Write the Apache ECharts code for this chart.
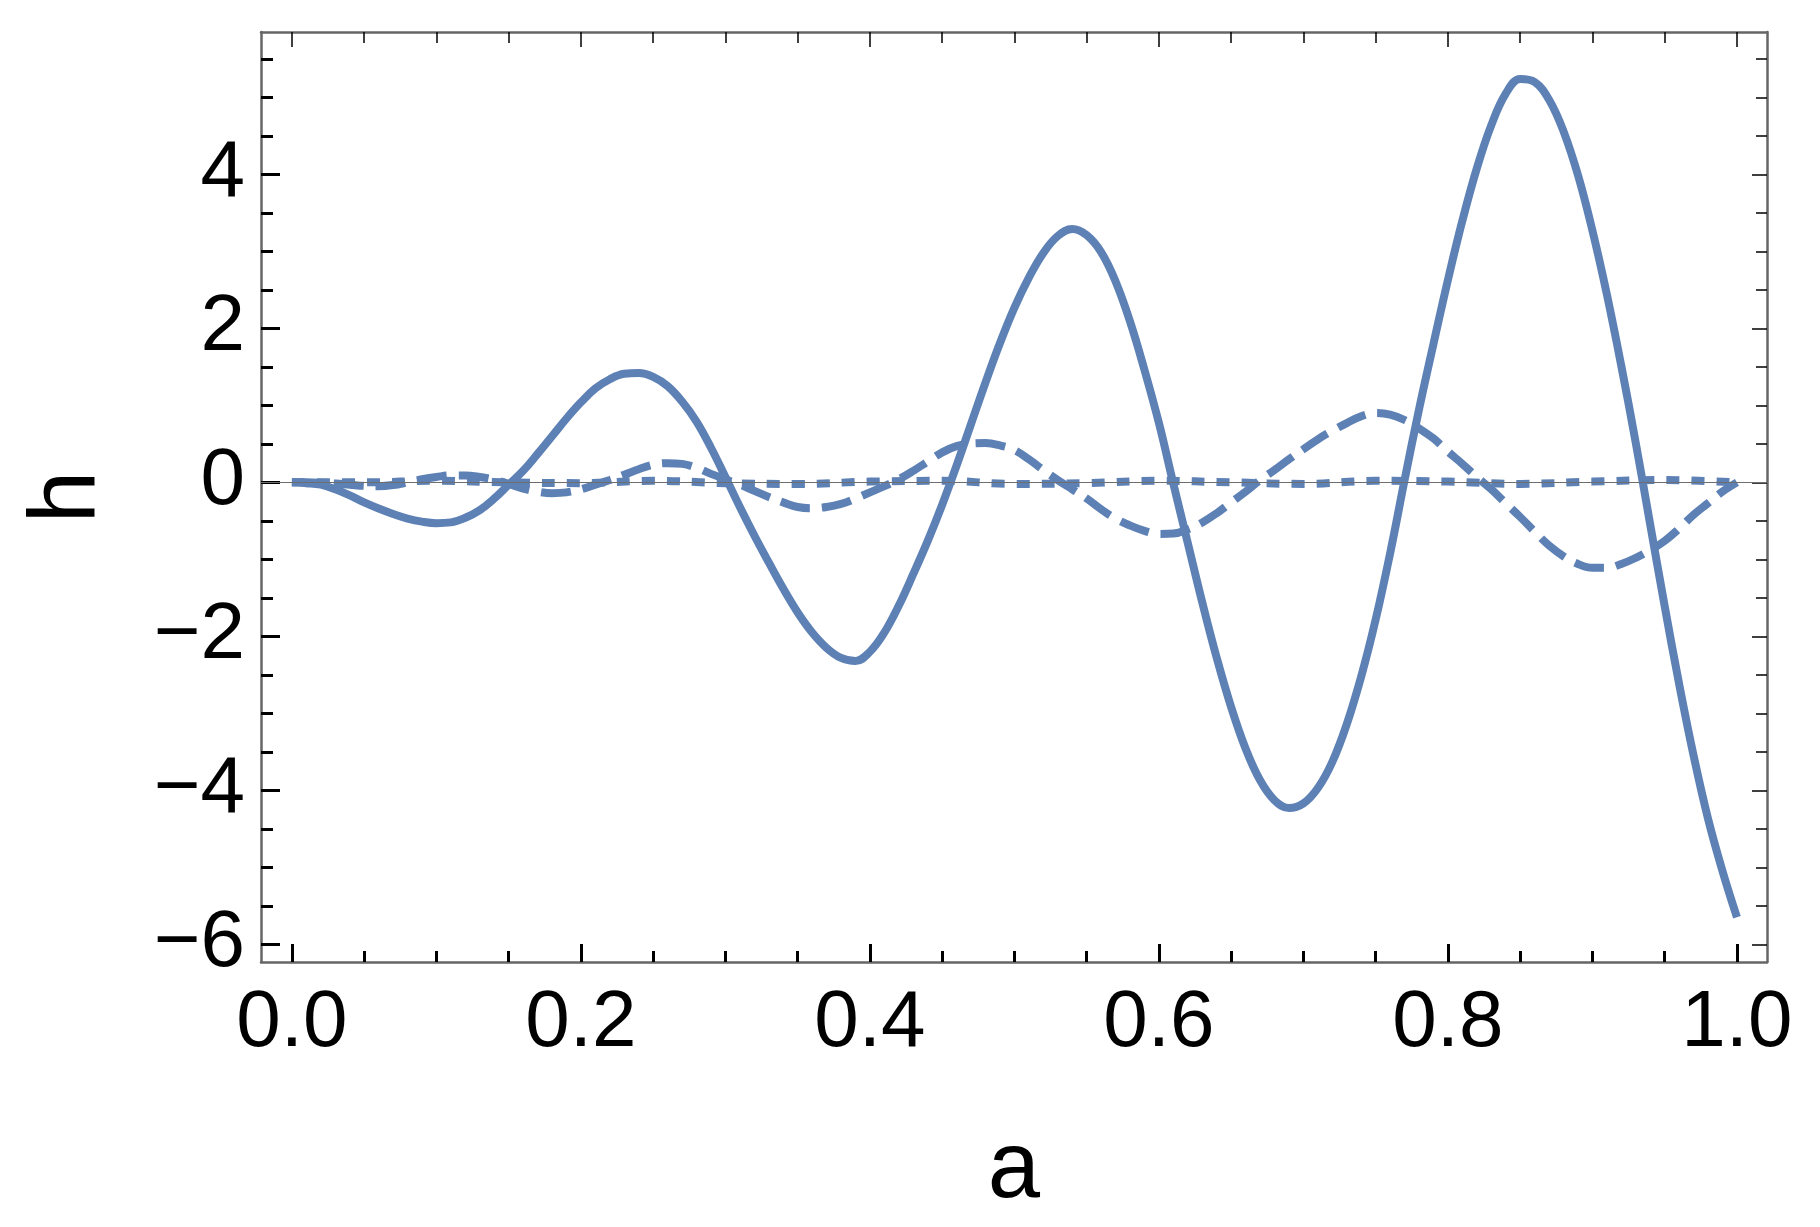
<!DOCTYPE html>
<html>
<head>
<meta charset="utf-8">
<script src="https://cdn.jsdelivr.net/npm/echarts@6/dist/echarts.min.js"></script>
<style>
html,body{margin:0;padding:0;background:#fff;}
#chart{width:1820px;height:1227px;}
</style>
</head>
<body>
<div id="chart"></div>
<script>
// ---- data ----
var aValues = [0.00,0.01,0.02,0.03,0.04,0.05,0.06,0.07,0.08,0.09,
  0.10,0.11,0.12,0.13,0.14,0.15,0.16,0.17,0.18,0.19,
  0.20,0.21,0.22,0.23,0.24,0.25,0.26,0.27,0.28,0.29,
  0.30,0.31,0.32,0.33,0.34,0.35,0.36,0.37,0.38,0.39,
  0.40,0.41,0.42,0.43,0.44,0.45,0.46,0.47,0.48,0.49,
  0.50,0.51,0.52,0.53,0.54,0.55,0.56,0.57,0.58,0.59,
  0.60,0.61,0.62,0.63,0.64,0.65,0.66,0.67,0.68,0.69,
  0.70,0.71,0.72,0.73,0.74,0.75,0.76,0.77,0.78,0.79,
  0.80,0.81,0.82,0.83,0.84,0.85,0.86,0.87,0.88,0.89,
  0.90,0.91,0.92,0.93,0.94,0.95,0.96,0.97,0.98,0.99,1.00];

var hSolid = [0,-0.01,-0.03,-0.09,-0.17,-0.26,-0.34,-0.41,-0.47,-0.51,
  -0.53,-0.52,-0.46,-0.36,-0.21,-0.03,0.15,0.37,0.60,0.83,
  1.04,1.22,1.34,1.41,1.42,1.37,1.25,1.05,0.79,0.45,
  0.07,-0.32,-0.69,-1.04,-1.38,-1.69,-1.95,-2.15,-2.28,-2.32,
  -2.20,-1.95,-1.60,-1.19,-0.76,-0.29,0.22,0.76,1.30,1.81,
  2.27,2.66,2.98,3.20,3.29,3.21,2.99,2.61,2.09,1.46,
  0.77,-0.02,-0.79,-1.56,-2.28,-2.92,-3.46,-3.87,-4.13,-4.23,
  -4.17,-3.97,-3.63,-3.14,-2.52,-1.78,-0.92,0.03,0.95,1.80,
  2.63,3.40,4.08,4.64,5.05,5.24,5.20,4.97,4.56,3.99,
  3.27,2.44,1.51,0.51,-0.55,-1.61,-2.62,-3.55,-4.37,-5.05,-5.65];

var hDashed = [0,0,-0.005,-0.015,-0.03,-0.045,-0.05,-0.035,0.0,0.04,
  0.07,0.09,0.09,0.07,0.035,-0.02,-0.08,-0.12,-0.14,-0.13,
  -0.09,-0.03,0.03,0.10,0.17,0.23,0.25,0.24,0.19,0.11,
  0.04,-0.03,-0.11,-0.19,-0.26,-0.32,-0.335,-0.32,-0.28,-0.21,
  -0.13,-0.05,0.04,0.15,0.27,0.39,0.47,0.505,0.51,0.48,
  0.42,0.30,0.16,0.03,-0.09,-0.21,-0.35,-0.47,-0.56,-0.63,
  -0.67,-0.665,-0.61,-0.52,-0.40,-0.26,-0.12,0.03,0.16,0.30,
  0.43,0.56,0.67,0.77,0.86,0.90,0.88,0.81,0.70,0.57,
  0.40,0.24,0.07,-0.09,-0.27,-0.45,-0.64,-0.82,-0.96,-1.06,
  -1.11,-1.11,-1.06,-0.98,-0.88,-0.76,-0.60,-0.42,-0.27,-0.12,0];

var aDotted = [0,0.05,0.10,0.15,0.20,0.25,0.30,0.35,0.40,0.45,0.50,
  0.55,0.60,0.65,0.70,0.75,0.80,0.85,0.90,0.95,1.00];
var hDotted = [0,0,0.02,0,-0.01,0.02,-0.01,-0.02,0.01,0.02,-0.02,
  -0.01,0.02,0,-0.02,0.02,0.01,-0.02,0.01,0.03,0];

var xMajorTicks = [0,0.2,0.4,0.6,0.8,1.0];
var xTickLabels = ['0.0','0.2','0.4','0.6','0.8','1.0'];
var xMinorTicks = [0.05,0.1,0.15,0.25,0.3,0.35,0.45,0.5,0.55,0.65,0.7,0.75,0.85,0.9,0.95];
var yMajorTicks = [-6,-4,-2,0,2,4];
var yTickLabels = ['\u22126','\u22124','\u22122','0','2','4'];
var yMinorTicks = [-5.5,-5,-4.5,-3.5,-3,-2.5,-1.5,-1,-0.5,0.5,1,1.5,2.5,3,3.5,4.5,5,5.5];

var xName = 'a';
var yName = 'h';

// ---- chart ----
var XMIN = -0.0214, XMAX = 1.0208, YMIN = -6.23, YMAX = 5.85;
var BLUE = '#5E81B5';
var FRAME = '#666666';
var FONT = 'Liberation Sans';

function pairs(xs, ys){ return xs.map(function(x,i){ return [x, ys[i]]; }); }

function xAx(grid, pos, ticks, len, w, opts){
  var o = {
    type:'value', gridIndex:grid, position:pos, min:XMIN, max:XMAX,
    axisLine:{show:false, onZero:false},
    axisTick:{show:true, inside:true, length:len, customValues:ticks, lineStyle:{color:'#000', width:w}},
    axisLabel:{show:false},
    splitLine:{show:false}
  };
  return Object.assign(o, opts||{});
}
function yAx(grid, pos, ticks, len, w, opts){
  var o = {
    type:'value', gridIndex:grid, position:pos, min:YMIN, max:YMAX,
    axisLine:{show:false, onZero:false},
    axisTick:{show:true, inside:true, length:len, customValues:ticks, lineStyle:{color:'#000', width:w}},
    axisLabel:{show:false},
    splitLine:{show:false}
  };
  return Object.assign(o, opts||{});
}

var gridPos = {left:261, right:53, top:32, bottom:265};

var option = {
  animation:false,
  backgroundColor:'#fff',
  grid:[Object.assign({}, gridPos), Object.assign({}, gridPos)],
  xAxis:[
    xAx(0,'bottom',xMajorTicks,18,3,{
      axisLine:{show:true,onZero:false,lineStyle:{color:FRAME,width:2.5}},
      axisLabel:{show:true, customValues:xMajorTicks, margin:22,
        formatter:function(v){ var i = xMajorTicks.indexOf(v); return i>=0? xTickLabels[i] : ''; },
        fontFamily:FONT, fontSize:80, color:'#000'},
      name:xName, nameLocation:'middle', nameGap:162,
      nameTextStyle:{fontFamily:FONT, fontSize:94, color:'#000'}
    }),
    xAx(0,'top',xMajorTicks,15,1.5,{
      axisLine:{show:true,onZero:false,lineStyle:{color:FRAME,width:2.5}}
    }),
    xAx(1,'bottom',xMinorTicks,11,3),
    xAx(1,'top',xMinorTicks,11,1.5)
  ],
  yAxis:[
    yAx(0,'left',yMajorTicks,19,3,{
      axisLine:{show:true,onZero:false,lineStyle:{color:FRAME,width:2.5}},
      axisLabel:{show:true, customValues:yMajorTicks, margin:16,
        formatter:function(v){ var i = yMajorTicks.indexOf(v); return i>=0? yTickLabels[i] : ''; },
        fontFamily:FONT, fontSize:80, color:'#000'},
      name:yName, nameLocation:'middle', nameGap:145,
      nameTextStyle:{fontFamily:FONT, fontSize:94, color:'#000'}
    }),
    yAx(0,'right',yMajorTicks,15,1.5,{
      axisLine:{show:true,onZero:false,lineStyle:{color:FRAME,width:2.5}}
    }),
    yAx(1,'left',yMinorTicks,12,3),
    yAx(1,'right',yMinorTicks,11,1.5)
  ],
  series:[
    {type:'line', xAxisIndex:0, yAxisIndex:0, data:pairs(aValues,hSolid), showSymbol:false, smooth:0.4,
     lineStyle:{color:BLUE, width:8, type:'solid', cap:'butt', join:'round'}, z:3, silent:true},
    {type:'line', xAxisIndex:0, yAxisIndex:0, data:pairs(aValues,hDashed), showSymbol:false, smooth:0.4,
     lineStyle:{color:BLUE, width:8, type:[30,12], cap:'butt'}, z:3, silent:true},
    {type:'line', xAxisIndex:0, yAxisIndex:0, data:pairs(aDotted,hDotted), showSymbol:false, smooth:0.4,
     lineStyle:{color:BLUE, width:8, type:[13,12], cap:'butt'}, z:3, silent:true},
    {type:'line', xAxisIndex:0, yAxisIndex:0, data:[], z:6, silent:true,
     markLine:{silent:true, symbol:'none', label:{show:false}, animation:false,
       lineStyle:{color:'#6e6e6e', width:1.2, type:'solid'},
       emphasis:{disabled:true},
       data:[{yAxis:0}]}}
  ]
};

var chart = echarts.init(document.getElementById('chart'), null, {renderer:'canvas'});
chart.setOption(option);
</script>
</body>
</html>
